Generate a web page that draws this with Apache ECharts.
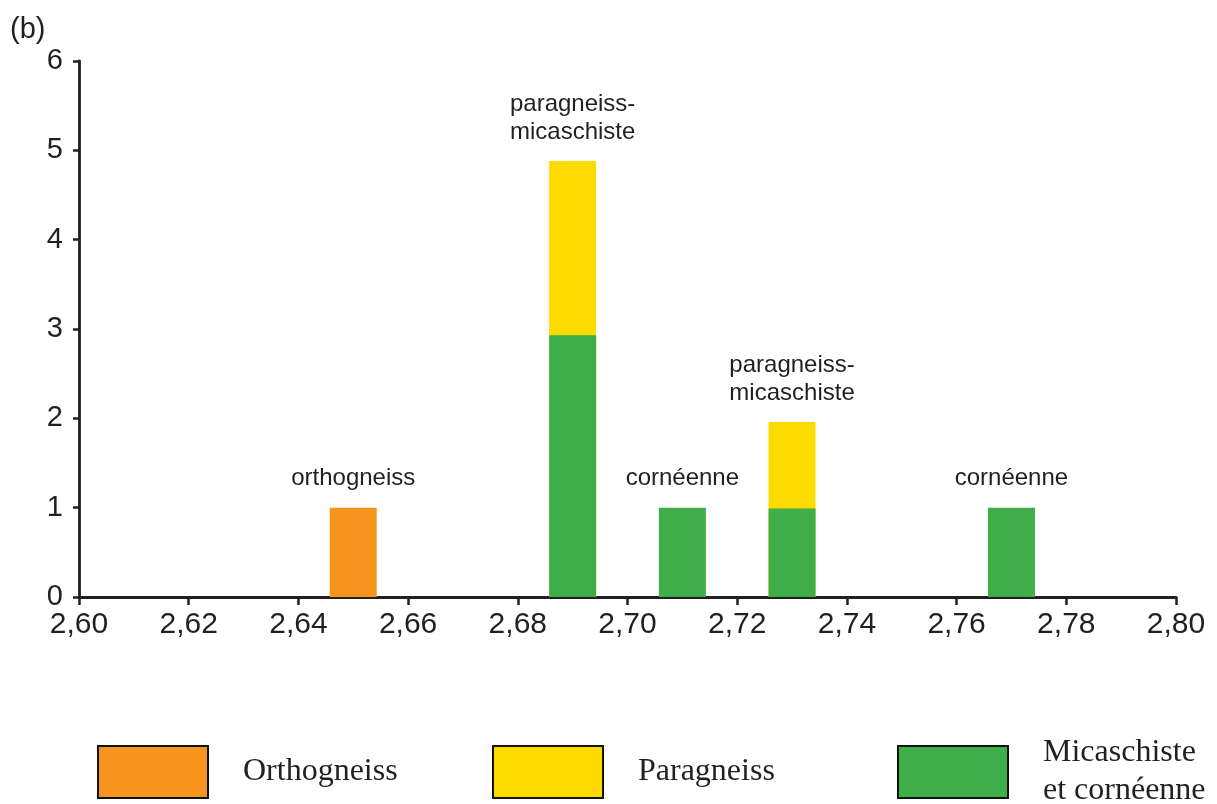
<!DOCTYPE html>
<html>
<head>
<meta charset="utf-8">
<script src="https://cdn.jsdelivr.net/npm/echarts@6/dist/echarts.min.js"></script>
<style>
    html, body { margin: 0; padding: 0; background: #fff; }
    #chart { width: 1217px; height: 804px; }
</style>
</head>
<body>
<div id="chart"></div>
<script>
    // densité (axe x) et effectifs (axe y)
    var densities = [2.69, 2.71, 2.73, 2.77]
    var orthoDensity = [2.65]
    var orthoCount = [1]
    var micaCount = [2.93, 1, 0.99, 1]      // micaschiste et cornéenne
    var paraCount = [1.95, 0, 0.97, 0]      // paragneiss, posé sur le vert
    var xTicks = ['2,60', '2,62', '2,64', '2,66', '2,68', '2,70', '2,72', '2,74', '2,76', '2,78', '2,80']
    var noteX = [2.65, 2.69, 2.71, 2.73, 2.77]
    var noteText = ['orthogneiss', 'paragneiss-\nmicaschiste', 'cornéenne', 'paragneiss-\nmicaschiste', 'cornéenne']
    var seriesNames = ['Orthogneiss', 'Paragneiss', 'Micaschiste\net cornéenne']

    var ink = '#231F20'
    var sans = 'Liberation Sans, Arial, Helvetica, sans-serif'
    var serif = 'Liberation Serif, Times New Roman, serif'

    function pairs(xs, ys) {
        var out = []
        for (var i = 0; i < xs.length; i++) {
            out.push([xs[i], ys[i]])
        }
        return out
    }

    // le jaune est dessiné jusqu'au total, le vert par-dessus (empilement à la main)
    var paraTop = []
    for (var k = 0; k < densities.length; k++) {
        paraTop.push(paraCount[k] > 0 ? micaCount[k] + paraCount[k] : 0)
    }

    // hauteur du haut de chaque barre, pour poser les annotations
    function topOf(x) {
        var t = 0
        for (var i = 0; i < orthoDensity.length; i++) {
            if (orthoDensity[i] === x) t = Math.max(t, orthoCount[i])
        }
        for (var j = 0; j < densities.length; j++) {
            if (densities[j] === x) t = Math.max(t, micaCount[j] + paraCount[j])
        }
        return t
    }

    var notes = []
    for (var n = 0; n < noteX.length; n++) {
        notes.push({ value: [noteX[n], topOf(noteX[n])], label: { formatter: noteText[n] } })
    }

    function legendAt(name, left, top) {
        return {
            data: [name],
            left: left,
            top: top,
            orient: 'horizontal',
            icon: 'rect',
            itemWidth: 110,
            itemHeight: 52,
            itemStyle: { borderColor: '#111', borderWidth: 2 },
            textStyle: {
                fontFamily: serif,
                fontSize: 32,
                lineHeight: 38,
                color: ink,
                padding: [0, 0, 0, 30]
            },
            selectedMode: false
        }
    }

    var chart = echarts.init(document.getElementById('chart'))
    chart.setOption({
        animation: false,
        title: {
            text: '(b)',
            left: 5,
            top: 10,
            textStyle: { fontFamily: sans, fontSize: 29, fontWeight: 'normal', color: ink }
        },
        grid: { left: 79, right: 41, top: 61, bottom: 207 },
        legend: [
            legendAt(seriesNames[0], 92, 740),
            legendAt(seriesNames[1], 487, 740),
            legendAt(seriesNames[2], 892, 729)
        ],
        xAxis: {
            type: 'value',
            min: 2.6,
            max: 2.8,
            interval: 0.02,
            axisLine: { lineStyle: { color: ink, width: 2.8 } },
            axisTick: { length: 8, lineStyle: { color: ink, width: 2.5 } },
            splitLine: { show: false },
            axisLabel: {
                margin: 13,
                fontFamily: sans,
                fontSize: 30,
                color: ink,
                formatter: function (v) {
                    return xTicks[Math.round((v - 2.6) / 0.02)]
                }
            }
        },
        yAxis: {
            type: 'value',
            min: 0,
            max: 6,
            interval: 1,
            axisLine: { show: true, lineStyle: { color: ink, width: 2.8 } },
            axisTick: { show: true, length: 6, lineStyle: { color: ink, width: 2.5 } },
            splitLine: { show: false },
            axisLabel: { margin: 16, fontFamily: sans, fontSize: 29, color: ink }
        },
        series: [
            {
                name: seriesNames[0],
                type: 'bar',
                barWidth: 47,
                barGap: '-100%',
                itemStyle: { color: '#F7941D' },
                data: pairs(orthoDensity, orthoCount)
            },
            {
                name: seriesNames[1],
                type: 'bar',
                barWidth: 47,
                barGap: '-100%',
                itemStyle: { color: '#FDDB00' },
                data: pairs(densities, paraTop)
            },
            {
                name: seriesNames[2],
                type: 'bar',
                barWidth: 47,
                barGap: '-100%',
                itemStyle: { color: '#3FAE49' },
                data: pairs(densities, micaCount)
            },
            {
                type: 'scatter',
                symbolSize: 0,
                silent: true,
                itemStyle: { opacity: 1 },
                label: {
                    show: true,
                    position: 'top',
                    distance: 15,
                    fontFamily: sans,
                    fontSize: 24,
                    lineHeight: 28,
                    color: ink
                },
                data: notes
            }
        ]
    })
</script>
</body>
</html>
